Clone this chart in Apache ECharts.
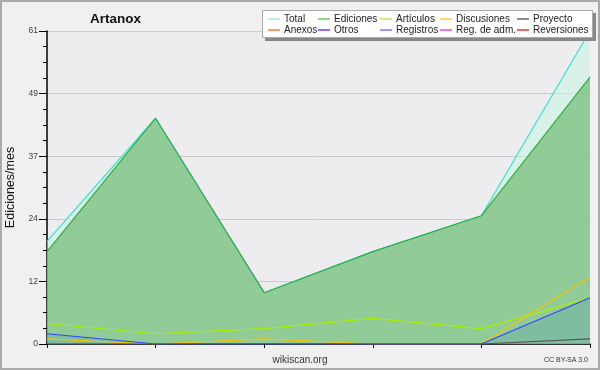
<!DOCTYPE html>
<html>
<head>
<meta charset="utf-8">
<script src="https://cdn.jsdelivr.net/npm/echarts@6/dist/echarts.min.js"></script>
<style>
html, body { margin: 0; padding: 0; background: #f0f0f0; }
#chart { width: 600px; height: 370px; }
</style>
</head>
<body>
<div id="chart"></div>
<script>
// meses (etiquetas ocultas en el original)
var meses = ['1', '2', '3', '4', '5', '6'];
var total = [20, 44, 10, 18, 25, 61];
var ediciones = [18, 44, 10, 18, 25, 52];
var articulos = [4, 2, 3, 5, 3, 9];
var discusiones = [1, 0, 1, 0, 0, 13];
var proyecto = [0, 0, 0, 0, 0, 1];
var registros = [2, 0, 0, 0, 0, 9];

var nombres = ['Total', 'Ediciones', 'Artículos', 'Discusiones', 'Proyecto',
	'Anexos', 'Otros', 'Registros', 'Reg. de adm.', 'Reversiones'];
var colores = ['#40dcd0', '#33aa44', '#aaee00', '#f5c400', '#555555',
	'#ff7744', '#8833ee', '#3344ff', '#ee44ee', '#ee3333'];
var iconos = ['#a8e8e4', '#66cc66', '#bbee44', '#ffcc44', '#666666',
	'#ff7744', '#8833ee', '#7777ff', '#ee44ee', '#ee3333'];
var datos = [total, ediciones, articulos, discusiones, proyecto, [], [], registros, [], []];
var rellenos = {
	'Total': 'rgba(195,247,228,0.5)',
	'Ediciones': 'rgba(116,186,117,0.7)',
	'Registros': 'rgba(86,160,179,0.3)'
};

var colX = [268, 318, 380, 440, 517];
var filaY = [14, 25];
var fuente = '"Liberation Sans", Arial, sans-serif';

var chart = echarts.init(document.getElementById('chart'));

var legends = [];
var series = [];
for (var i = 0; i < nombres.length; i++) {
	legends.push({
		data: [nombres[i]],
		left: colX[i % 5],
		top: filaY[Math.floor(i / 5)],
		icon: 'rect',
		itemWidth: 12,
		itemHeight: 1.5,
		itemGap: 0,
		padding: 0,
		z: 20,
		textStyle: { fontFamily: fuente, fontSize: 10, color: '#222', lineHeight: 10, padding: [0, 0, 0, -1] },
		selectedMode: false
	});
	var s = {
		name: nombres[i],
		type: 'line',
		data: datos[i],
		symbol: 'none',
		smooth: false,
		color: iconos[i],
		lineStyle: { color: colores[i], width: 1.2 },
		silent: true
	};
	if (rellenos[nombres[i]]) {
		s.areaStyle = { color: rellenos[nombres[i]], opacity: 1 };
	}
	series.push(s);
}

var option = {
	animation: false,
	backgroundColor: '#f0f0f0',
	title: {
		text: 'Artanox',
		left: 85,
		top: 7,
		textStyle: { fontFamily: fuente, fontSize: 13.5, fontWeight: 'bold', color: '#111' }
	},
	legend: legends,
	grid: {
		left: 47,
		right: 10,
		top: 31,
		bottom: 26,
		outerBoundsMode: 'none',
		containLabel: false,
		show: true,
		backgroundColor: '#ededf0',
		borderWidth: 0
	},
	xAxis: {
		type: 'category',
		boundaryGap: false,
		data: meses,
		axisLine: { lineStyle: { color: '#000', width: 1.5 } },
		axisTick: { show: true, length: 4, lineStyle: { color: '#000' } },
		axisLabel: { show: false },
		splitLine: { show: false }
	},
	yAxis: {
		type: 'value',
		min: 0,
		max: 61,
		interval: 12.2,
		name: 'Ediciones/mes',
		nameLocation: 'middle',
		nameGap: 30,
		nameTextStyle: { fontFamily: fuente, fontSize: 12.5, color: '#111' },
		axisLine: { show: true, lineStyle: { color: '#000', width: 1.5 } },
		axisTick: { show: true, length: 8, lineStyle: { color: '#000' } },
		minorTick: { show: true, splitNumber: 4, length: 4, lineStyle: { color: '#000' } },
		axisLabel: {
			margin: 9,
			fontFamily: fuente,
			fontSize: 8.5,
			color: '#444',
			formatter: function(v) { return Math.round(v); }
		},
		splitLine: { show: true, lineStyle: { color: '#cccccc', width: 1 } }
	},
	graphic: [
		{
			type: 'rect',
			shape: { x: 1, y: 1, width: 598, height: 368 },
			style: { fill: 'none', stroke: '#aaaaaa', lineWidth: 2 },
			silent: true,
			z: 100
		},
		{
			type: 'rect',
			shape: { x: 265, y: 13, width: 331, height: 28 },
			style: { fill: '#888888' },
			silent: true,
			z: 5
		},
		{
			type: 'rect',
			shape: { x: 262.5, y: 10.5, width: 330, height: 27 },
			style: { fill: '#ffffff', stroke: '#aaaaaa', lineWidth: 1 },
			silent: true,
			z: 6
		},
		{
			type: 'text',
			left: 'center',
			top: 355,
			style: { text: 'wikiscan.org', font: '10px "Liberation Sans"', fill: '#333' },
			silent: true
		},
		{
			type: 'text',
			right: 12,
			top: 357,
			style: { text: 'CC BY-SA 3.0', font: '7px "Liberation Sans"', fill: '#333' },
			silent: true
		}
	],
	series: series
};
chart.setOption(option);
</script>
</body>
</html>
